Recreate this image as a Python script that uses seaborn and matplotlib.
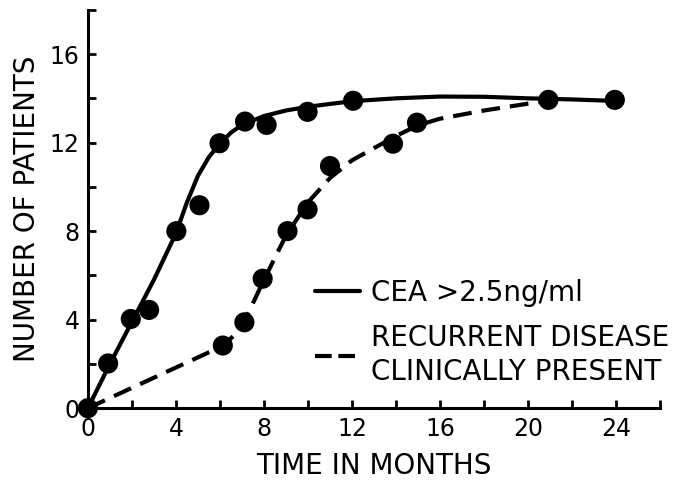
import numpy as np
import pandas as pd
import matplotlib
matplotlib.use('Agg')
import matplotlib.pyplot as plt
import seaborn as sns
from matplotlib.lines import Line2D

# observed points, CEA > 2.5 ng/ml
cea_months = [0, 0.92, 1.95, 2.78, 4.02, 5.07, 5.98, 7.14, 8.12, 9.98, 12.05, 20.92, 23.94]
cea_patients = [0, 2.02, 4.03, 4.44, 8.0, 9.17, 11.97, 12.95, 12.8, 13.39, 13.89, 13.93, 13.93]

# observed points, recurrent disease clinically present
rec_months = [6.13, 7.11, 7.94, 9.07, 9.98, 11.0, 13.86, 14.95]
rec_patients = [2.83, 3.88, 5.85, 8.0, 8.98, 10.94, 11.95, 12.9]

# hand-drawn fitted curves
cea_curve_x = [0, 1, 2, 3, 4, 4.5, 5, 5.5, 6, 6.5, 7, 8, 9, 10, 12, 14, 16, 18, 20, 22, 24]
cea_curve_y = [0, 2.0, 3.9, 5.8, 7.9, 9.3, 10.5, 11.35, 11.95, 12.45, 12.8, 13.2, 13.45, 13.62,
               13.87, 14.0, 14.08, 14.07, 14.0, 13.95, 13.88]
rec_curve_x = [0, 6.1, 6.6, 7.1, 8, 9, 10, 11, 12, 13, 14, 15, 16, 18, 20, 21]
rec_curve_y = [0, 2.8, 3.25, 3.9, 5.8, 7.8, 9.3, 10.4, 11.2, 11.75, 12.3, 12.78, 13.08,
               13.45, 13.76, 13.9]

x_ticks = list(range(0, 27, 2))
x_labels = ['0', '', '4', '', '8', '', '12', '', '16', '', '20', '', '24', '']
y_ticks = list(range(0, 19, 2))
y_labels = ['0', '', '4', '', '8', '', '12', '', '16', '']

sns.set_style('ticks')
plt.rcParams['font.family'] = ['DejaVu Sans']
plt.rcParams['text.color'] = 'black'

fig = plt.figure(figsize=(6.92, 4.9), dpi=100)
ax = fig.add_axes([0.127, 0.167, 0.827, 0.813])

cea_line = pd.DataFrame({'x': cea_curve_x, 'y': cea_curve_y})
rec_line = pd.DataFrame({'x': rec_curve_x, 'y': rec_curve_y})
sns.lineplot(data=cea_line, x='x', y='y', ax=ax, color='black', linewidth=3.0,
             sort=False, estimator=None)
sns.lineplot(data=rec_line, x='x', y='y', ax=ax, color='black', linewidth=3.0,
             sort=False, estimator=None)
ax.lines[1].set_dashes([4.5, 2.4])

pts = pd.DataFrame({'x': cea_months + rec_months, 'y': cea_patients + rec_patients})
sns.scatterplot(data=pts, x='x', y='y', ax=ax, color='black', s=210, edgecolor='none',
                clip_on=False, zorder=5)

ax.set_xlim(0, 26)
ax.set_ylim(0, 18)
ax.set_xticks(x_ticks)
ax.set_xticklabels(x_labels)
ax.set_yticks(y_ticks)
ax.set_yticklabels(y_labels)
ax.tick_params(direction='in', length=6, width=2, labelsize=17, colors='black', pad=6)
sns.despine(ax=ax)
for s in ['left', 'bottom']:
    ax.spines[s].set_linewidth(2.2)
    ax.spines[s].set_color('black')

ax.set_xlabel('TIME IN MONTHS', fontsize=20, labelpad=8, color='black')
ax.set_ylabel('NUMBER OF PATIENTS', fontsize=20, labelpad=6, color='black')

handles = [Line2D([], [], color='black', linewidth=3.0),
           Line2D([], [], color='black', linewidth=3.0, dashes=[4, 1.6])]
leg = ax.legend(handles, ['CEA >2.5ng/ml', 'RECURRENT DISEASE\nCLINICALLY PRESENT'],
                frameon=False, prop={'size': 20}, handlelength=1.6,
                handletextpad=0.4, loc='center left', bbox_to_anchor=(0.397, 0.19),
                borderaxespad=0, borderpad=0, labelspacing=0.6)
for t in leg.get_texts():
    t.set_color('black')
    t.set_linespacing(1.3)

fig.savefig('out.png', dpi=100)
